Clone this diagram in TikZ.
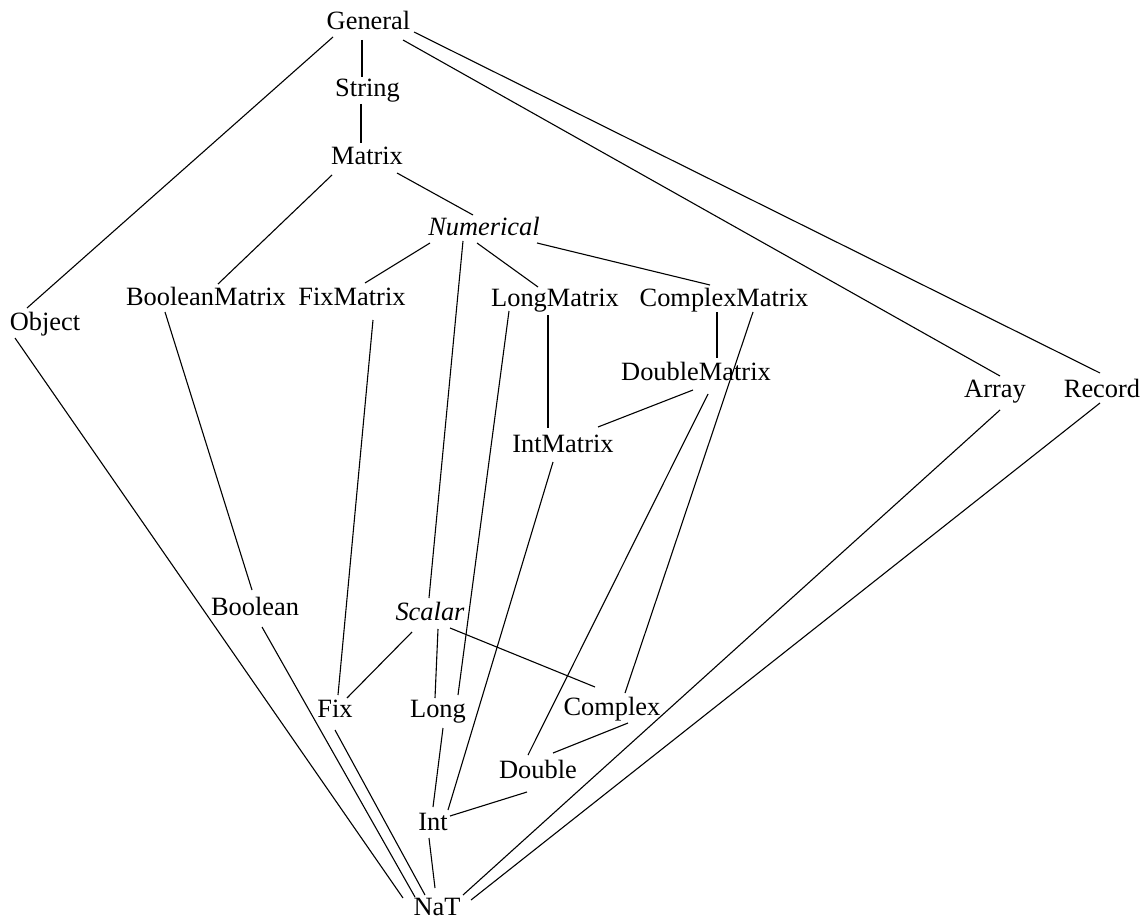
\documentclass[tikz,border=0pt]{standalone}
\usepackage{fontspec}
\setmainfont{Liberation Serif}
\begin{document}
\begin{tikzpicture}[x=1pt,y=-1pt,
  lbl/.style={anchor=base,inner sep=0pt,font=\fontsize{26.4}{30}\selectfont},
  abstract/.style={lbl,font=\fontsize{26.4}{30}\selectfont\itshape},
  edge/.style={line width=1.1pt}]
\useasboundingbox (0,0) rectangle (1148,920);
% type lattice: labels placed on their baselines
\node[lbl]      (general)       at (368.5,30)  {General};
\node[lbl]      (string)        at (367.5,97)  {String};
\node[lbl]      (matrix)        at (367,165)   {Matrix};
\node[abstract] (numerical)     at (484,235)   {Numerical};
\node[lbl]      (booleanmatrix) at (206,305)   {BooleanMatrix};
\node[lbl]      (fixmatrix)     at (352,305)   {FixMatrix};
\node[lbl]      (longmatrix)    at (555,306)   {LongMatrix};
\node[lbl]      (complexmatrix) at (724,306)   {ComplexMatrix};
\node[lbl]      (object)        at (45,330)    {Object};
\node[lbl]      (doublematrix)  at (696,380)   {DoubleMatrix};
\node[lbl]      (array)         at (995,397)   {Array};
\node[lbl]      (record)        at (1102,397)  {Record};
\node[lbl]      (intmatrix)     at (563,452)   {IntMatrix};
\node[lbl]      (boolean)       at (255,615)   {Boolean};
\node[abstract] (scalar)        at (430,620)   {Scalar};
\node[lbl]      (fix)           at (335,717)   {Fix};
\node[lbl]      (long)          at (438,717)   {Long};
\node[lbl]      (complex)       at (612,715)   {Complex};
\node[lbl]      (double)        at (538,778)   {Double};
\node[lbl]      (int)           at (433,830)   {Int};
\node[lbl]      (nat)           at (437,915)   {NaT};
% \lnk{upper}{offset}{lower}{offset}: offsets from each label's baseline point
\newcommand\lnk[4]{\draw[edge] ([shift={(#2)}]#1.base) -- ([shift={(#4)}]#3.base);}
\lnk{general}{-6.5,10}{string}{-5.5,-20}
\lnk{string}{-6.5,7}{matrix}{-6,-22}
\lnk{general}{-35.5,7}{object}{-18,-22}
\lnk{general}{34.5,10}{array}{5,-21}
\lnk{general}{45.5,2}{record}{-2,-24}
\lnk{matrix}{-35,10}{booleanmatrix}{12,-21}
\lnk{matrix}{30,8}{numerical}{-11,-20}
\lnk{numerical}{-54,8}{fixmatrix}{13,-22}
\lnk{numerical}{-7,8}{longmatrix}{-17,-19}
\lnk{numerical}{53,8}{complexmatrix}{-14,-21}
\lnk{numerical}{-21,6}{scalar}{-1,-22}
\lnk{complexmatrix}{-7,6}{doublematrix}{21,-22}
\lnk{longmatrix}{-7,9}{intmatrix}{-15,-24}
\lnk{doublematrix}{-3,10}{intmatrix}{35,-25}
\lnk{booleanmatrix}{-41,7}{boolean}{-3,-25}
\lnk{fixmatrix}{21,15}{fix}{3,-22}
\lnk{longmatrix}{-46,5}{long}{20,-22}
\lnk{complexmatrix}{29,6}{complex}{13,-22}
\lnk{doublematrix}{12,14}{double}{-10,-23}
\lnk{intmatrix}{-10,10}{int}{15,-20}
\lnk{scalar}{-18,12}{fix}{12,-19}
\lnk{scalar}{8,9}{long}{-3,-19}
\lnk{scalar}{20,8}{complex}{-17,-28}
\lnk{complex}{16,8}{double}{15,-25}
\lnk{double}{-11,14}{int}{17,-14}
\lnk{long}{5,11}{int}{0,-23}
\lnk{int}{-4,8}{nat}{-2,-27}
\lnk{fix}{0,13}{nat}{-12,-20}
\lnk{boolean}{7,12}{nat}{-22,-18}
\lnk{object}{-30,8}{nat}{-34,-17}
\lnk{array}{5,13}{nat}{26,-20}
\lnk{record}{-2,6}{nat}{34,-15}
\end{tikzpicture}
\end{document}
